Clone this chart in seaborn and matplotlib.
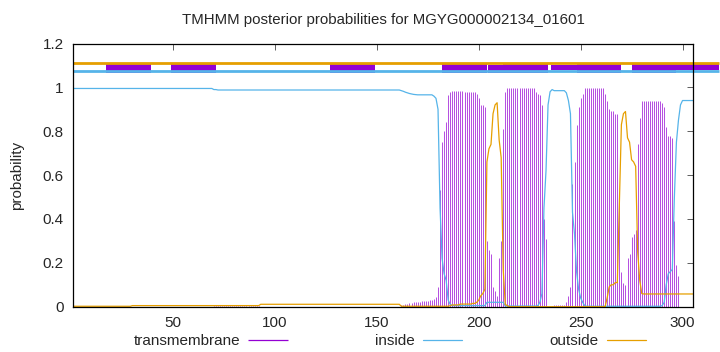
import numpy as np
import pandas as pd
import matplotlib
matplotlib.use("Agg")
import matplotlib.pyplot as plt
import seaborn as sns

# ---------------- data ----------------
title = "TMHMM posterior probabilities for MGYG000002134_01601"
seq_len = 305
series_names = ["transmembrane", "inside", "outside"]
series_colors = ["#9400d3", "#56b4e9", "#e69f00"]
x_ticks = [50, 100, 150, 200, 250, 300]
y_ticks = [0, 0.2, 0.4, 0.6, 0.8, 1.0, 1.2]
y_tick_labels = ["0", "0.2", "0.4", "0.6", "0.8", "1", "1.2"]

# per-residue posterior probabilities (residues 1..305)
tm_prob = ([0.0] * 69 + [0.005] * 23 + [0.0] * 69 +
           [0.008, 0.010, 0.012, 0.014, 0.016, 0.018, 0.020, 0.021,
            0.022, 0.023, 0.024, 0.025, 0.027, 0.028, 0.030, 0.032] +
           [0.036, 0.045, 0.09, 0.53, 0.75, 0.80, 0.84, 0.966, 0.98] +
           [0.985] * 6 + [0.98] * 6 +
           [0.97, 0.95, 0.92, 0.92, 0.91, 0.30, 0.26, 0.24, 0.09, 0.07,
            0.05, 0.22, 0.30, 0.81, 0.98, 0.995] +
           [0.998] * 13 +
           [0.98, 0.97, 0.966, 0.92, 0.40, 0.31, 0.0, 0.0, 0.003] +
           [0.01] * 6 +
           [0.02, 0.05, 0.09, 0.56, 0.66, 0.83, 0.91, 0.95, 0.97, 0.995] +
           [0.998] * 9 +
           [0.97, 0.94, 0.90, 0.89, 0.89, 0.88, 0.88, 0.52, 0.16, 0.11,
            0.10, 0.22, 0.24, 0.32, 0.33, 0.35, 0.74, 0.86, 0.94] +
           [0.94] * 9 +
           [0.93, 0.91, 0.82, 0.78, 0.78, 0.77, 0.39, 0.19, 0.14] +
           [0.0] * 7)

inside_prob = ([0.995] * 69 + [0.99] * 2 + [0.988] * 90 +
               [0.985, 0.982, 0.978, 0.975, 0.972, 0.970, 0.968, 0.967] +
               [0.966] * 8 +
               [0.96, 0.95, 0.90, 0.45, 0.22, 0.15, 0.12, 0.03, 0.01] +
               [0.005] * 17 + [0.02] * 9 + [0.003] * 16 +
               [0.005, 0.02, 0.06, 0.45, 0.62, 0.92, 0.98, 0.99] +
               [0.985] * 6 +
               [0.975, 0.94, 0.88, 0.43, 0.33, 0.16, 0.08, 0.04, 0.02, 0.005] +
               [0.002] * 37 +
               [0.005, 0.02, 0.10, 0.15, 0.16, 0.17, 0.50, 0.75, 0.85, 0.92] +
               [0.94] * 6)

outside_prob = ([0.002] * 29 + [0.005] * 63 + [0.011] * 69 + [0.002] * 24 +
                [0.005, 0.008, 0.008, 0.008, 0.008, 0.012, 0.012, 0.012, 0.012,
                 0.012, 0.012, 0.015, 0.015, 0.02, 0.03, 0.05, 0.06, 0.08] +
                [0.66, 0.72, 0.74, 0.88, 0.92, 0.93, 0.76, 0.68, 0.17, 0.01, 0.005] +
                [0.0] * 48 +
                [0.04, 0.09, 0.10, 0.10, 0.11, 0.11, 0.47, 0.83, 0.88, 0.89,
                 0.77, 0.75, 0.67, 0.66, 0.64, 0.25, 0.12, 0.06] +
                [0.058] * 25)

# topology bars drawn above the curves (residue ranges)
outside_bar = (1, 318)
inside_bar = (1, 318)
tm_boxes_main = [(17, 39), (49, 71), (127, 149), (182, 204), (212, 234), (248, 270), (275, 297)]
tm_boxes_thin = [(204.5, 213.4), (235.6, 248.2), (296.5, 318)]
tm_boxes_thin_y = [(1.067, 1.104), (1.078, 1.104), (1.079, 1.105)]

# ---------------- plot ----------------
sns.set_theme(style="white")
plt.rcParams['font.family'] = ['Liberation Sans', 'DejaVu Sans']
FS = 11

pos = np.arange(1, seq_len + 1)
df = pd.DataFrame({"pos": pos, "tm": tm_prob, "inside": inside_prob, "outside": outside_prob})

fig = plt.figure(figsize=(7.2, 3.52), dpi=100)
ax = fig.add_axes([0.1018, 0.1287, 0.8603, 0.7477])

tm_art = ax.vlines(df["pos"], 0, df["tm"], color=series_colors[0], lw=0.7, alpha=0.7,
                   label=series_names[0])
sns.lineplot(data=df, x="pos", y="inside", ax=ax, color=series_colors[1], lw=0.9,
             label=series_names[1], legend=False)
sns.lineplot(data=df, x="pos", y="outside", ax=ax, color=series_colors[2], lw=0.9,
             label=series_names[2], legend=False)

# topology bars
ax.hlines(1.110, outside_bar[0], outside_bar[1], color=series_colors[2], lw=2.0,
          clip_on=False, capstyle="butt")
ax.hlines(1.073, inside_bar[0], inside_bar[1], color=series_colors[1], lw=2.0,
          clip_on=False, capstyle="butt")
ax.broken_barh([(a, b - a) for a, b in tm_boxes_main], (1.067, 1.113 - 1.067),
               facecolors=series_colors[0], edgecolor="none", clip_on=False)
for (a, b), (y0, y1) in zip(tm_boxes_thin, tm_boxes_thin_y):
    ax.broken_barh([(a, b - a)], (y0, y1 - y0), facecolors=series_colors[0],
                   edgecolor="none", clip_on=False)

ax.set_xlim(1, seq_len)
ax.set_ylim(0, 1.2)
ax.set_xticks(x_ticks)
ax.set_yticks(y_ticks)
ax.set_yticklabels(y_tick_labels)
ax.set_xlabel("")
ax.set_ylabel("probability", fontsize=FS, labelpad=13)
ax.set_title(title, fontsize=10.8, pad=14)
ax.tick_params(direction="in", top=True, right=True, length=4, width=0.6,
               labelsize=FS, pad=7, color="#444444")
for s in ax.spines.values():
    s.set_color("black")
    s.set_linewidth(0.9)

handles = [tm_art, ax.lines[0], ax.lines[1]]
leg = fig.legend(handles, series_names, loc="center", bbox_to_anchor=(390 / 720, 0.031),
                 ncol=3, frameon=False, markerfirst=False, handlelength=2.6,
                 handletextpad=0.52, columnspacing=5.7, fontsize=FS)
for h in leg.legend_handles:
    h.set_alpha(1)
    h.set_linewidth(0.9)

fig.savefig("out.png", dpi=100)
